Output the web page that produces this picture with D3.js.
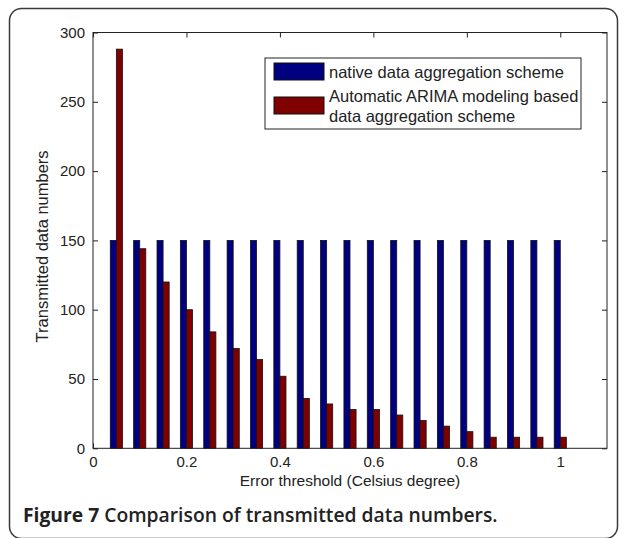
<!DOCTYPE html>
<html>
<head>
<meta charset="utf-8">
<script src="https://cdn.jsdelivr.net/npm/d3@7/dist/d3.min.js"></script>
<style>
  html, body { margin: 0; padding: 0; background: #fff; }
  svg { display: block; }
  .tick text { font-family: "Liberation Sans", Arial, sans-serif; font-size: 15px; fill: #222; }
</style>
</head>
<body>
<svg id="chart" width="627" height="538"></svg>
<script>
// Error thresholds (Celsius degree) at which both schemes were evaluated
const thresholds = [0.05, 0.10, 0.15, 0.20, 0.25, 0.30, 0.35, 0.40, 0.45, 0.50,
                    0.55, 0.60, 0.65, 0.70, 0.75, 0.80, 0.85, 0.90, 0.95, 1.00];
// Transmitted data numbers per scheme
const nativeCounts = [150, 150, 150, 150, 150, 150, 150, 150, 150, 150,
                      150, 150, 150, 150, 150, 150, 150, 150, 150, 150];
const arimaCounts  = [288, 144, 120, 100, 84, 72, 64, 52, 36, 32,
                      28, 28, 24, 20, 16, 12, 8, 8, 8, 8];
const seriesNames = ["native data aggregation scheme",
                     "Automatic ARIMA modeling based data aggregation scheme"];
const seriesColors = ["#000080", "#800000"];
const xTickValues = [0, 0.2, 0.4, 0.6, 0.8, 1];
const xTickLabels = ["0", "0.2", "0.4", "0.6", "0.8", "1"];
const yTickValues = [0, 50, 100, 150, 200, 250, 300];

const svg = d3.select("#chart");
const W = 627, H = 538;

// Rounded outer frame
svg.append("rect")
  .attr("x", 9.5).attr("y", 8.5)
  .attr("width", W - 19).attr("height", H - 8)
  .attr("rx", 12).attr("ry", 12)
  .attr("fill", "#fff").attr("stroke", "#3a3a3a").attr("stroke-width", 1.5);

const plot = { left: 93, right: 607, top: 32.5, bottom: 448.3 };

const x = d3.scaleLinear().domain([0, 1.1]).range([plot.left, plot.right]);
const y = d3.scaleLinear().domain([0, 300]).range([plot.bottom, plot.top]);

// Two bars side by side inside each threshold group
const groupWidth = 0.026;
const sub = d3.scaleBand().domain([0, 1]).range([-groupWidth / 2, groupWidth / 2]);

const rows = thresholds.map((t, i) => ({ t, vals: [nativeCounts[i], arimaCounts[i]] }));

const g = svg.append("g");
const groups = g.selectAll("g.grp").data(rows).join("g").attr("class", "grp");
groups.selectAll("rect")
  .data(d => d.vals.map((v, k) => ({ t: d.t, v, k })))
  .join("rect")
  .attr("x", d => x(d.t + sub(d.k)))
  .attr("width", d => x(d.t + sub(d.k) + sub.bandwidth()) - x(d.t + sub(d.k)))
  .attr("y", d => y(d.v))
  .attr("height", d => y(0) - y(d.v))
  .attr("fill", d => seriesColors[d.k])
  .attr("stroke", "#111").attr("stroke-width", 0.8);

// Axes with inward ticks, mirrored on top and right
const fmtX = d => xTickLabels[xTickValues.indexOf(d)];
const axB = svg.append("g").attr("transform", `translate(0,${plot.bottom})`)
  .call(d3.axisBottom(x).tickValues(xTickValues).tickFormat(fmtX).tickSizeInner(-5).tickSizeOuter(0).tickPadding(8));
const axT = svg.append("g").attr("transform", `translate(0,${plot.top})`)
  .call(d3.axisTop(x).tickValues(xTickValues).tickFormat("").tickSizeInner(-5).tickSizeOuter(0));
const axL = svg.append("g").attr("transform", `translate(${plot.left},0)`)
  .call(d3.axisLeft(y).tickValues(yTickValues).tickSizeInner(-5).tickSizeOuter(0).tickPadding(8));
const axR = svg.append("g").attr("transform", `translate(${plot.right},0)`)
  .call(d3.axisRight(y).tickValues(yTickValues).tickFormat("").tickSizeInner(-5).tickSizeOuter(0));
[axB, axT, axL, axR].forEach(a => {
  a.select(".domain").remove();
  a.selectAll(".tick line").attr("stroke", "#222");
});

// Plot box
svg.append("rect")
  .attr("x", plot.left).attr("y", plot.top)
  .attr("width", plot.right - plot.left).attr("height", plot.bottom - plot.top)
  .attr("fill", "none").attr("stroke", "#222").attr("stroke-width", 1);

const txtFont = "'Liberation Sans', Arial, sans-serif";

// Axis titles
svg.append("text")
  .attr("x", (plot.left + plot.right) / 2).attr("y", 486)
  .attr("text-anchor", "middle")
  .attr("font-family", txtFont).attr("font-size", 15.5).attr("fill", "#222")
  .text("Error threshold (Celsius degree)");
svg.append("text")
  .attr("transform", `translate(48,${(plot.top + plot.bottom) / 2 + 6}) rotate(-90)`)
  .attr("text-anchor", "middle")
  .attr("font-family", txtFont).attr("font-size", 16.5).attr("fill", "#222")
  .text("Transmitted data numbers");

// Legend
const lg = svg.append("g");
lg.append("rect")
  .attr("x", 265).attr("y", 58).attr("width", 316).attr("height", 71)
  .attr("fill", "#fff").attr("stroke", "#222").attr("stroke-width", 1);
const swY = [63, 97];
seriesColors.forEach((c, k) => {
  lg.append("rect").attr("x", 274).attr("y", swY[k]).attr("width", 50).attr("height", 17)
    .attr("fill", c).attr("stroke", "#111").attr("stroke-width", 1);
});
const legendLines = [
  { text: "native data aggregation scheme", y: 78 },
  { text: "Automatic ARIMA modeling based", y: 101.5 },
  { text: "data aggregation scheme", y: 121.5 }
];
lg.selectAll("text.lt").data(legendLines).join("text")
  .attr("class", "lt")
  .attr("x", 329).attr("y", d => d.y)
  .attr("font-family", txtFont).attr("font-size", 16.5).attr("fill", "#222")
  .text(d => d.text);

// Caption
const cap = svg.append("text")
  .attr("x", 23).attr("y", 522)
  .attr("font-family", "'Open Sans', 'Noto Sans', sans-serif").attr("font-size", 19.3)
  .attr("fill", "#222");
cap.append("tspan").attr("font-weight", 700).text("Figure 7");
cap.append("tspan").attr("font-weight", 600).text(" Comparison of transmitted data numbers.");
</script>
</body>
</html>
